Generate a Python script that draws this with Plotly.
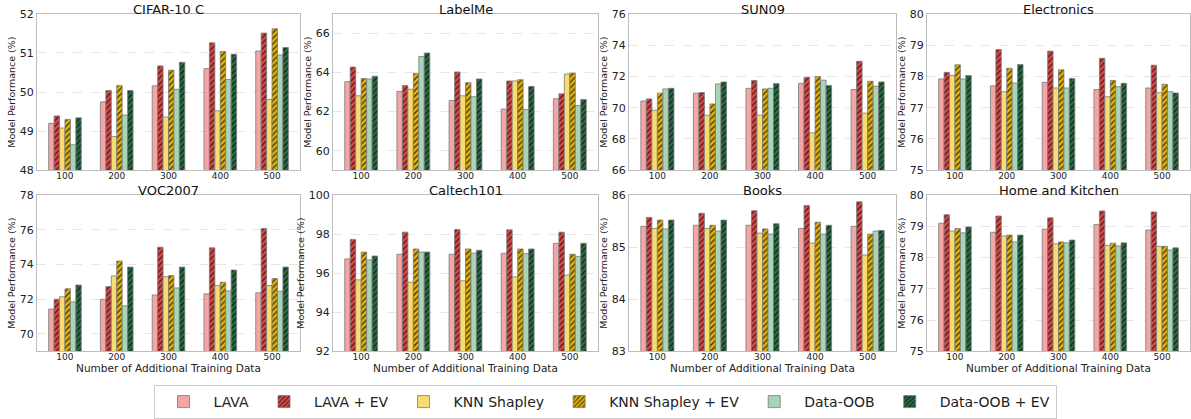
import plotly.graph_objects as go
from plotly.subplots import make_subplots

categories = ["100", "200", "300", "400", "500"]
methods = ["LAVA", "LAVA + EV", "KNN Shapley", "KNN Shapley + EV", "Data-OOB", "Data-OOB + EV"]

titles = ["CIFAR-10 C", "LabelMe", "SUN09", "Electronics",
          "VOC2007", "Caltech101", "Books", "Home and Kitchen"]

cifar = [
    [49.20, 49.75, 50.16, 50.60, 51.05],
    [49.39, 50.04, 50.67, 51.26, 51.51],
    [49.08, 48.86, 49.36, 49.52, 49.81],
    [49.30, 50.17, 50.56, 51.04, 51.62],
    [48.65, 49.41, 50.07, 50.32, 50.95],
    [49.34, 50.04, 50.76, 50.97, 51.14],
]
labelme = [
    [63.53, 63.03, 62.57, 62.13, 62.66],
    [64.28, 63.33, 64.03, 63.57, 62.91],
    [62.81, 63.14, 62.81, 63.57, 63.92],
    [63.69, 63.96, 63.48, 63.63, 63.97],
    [63.67, 64.82, 62.76, 62.11, 62.31],
    [63.81, 65.00, 63.67, 63.29, 62.62],
]
sun09 = [
    [70.43, 70.93, 71.24, 71.56, 71.16],
    [70.56, 70.97, 71.74, 71.95, 72.97],
    [69.84, 69.52, 69.52, 68.39, 69.65],
    [70.93, 70.24, 71.20, 71.99, 71.69],
    [71.20, 71.52, 71.24, 71.76, 71.37],
    [71.24, 71.65, 71.54, 71.42, 71.65],
]
electronics = [
    [77.92, 77.70, 77.81, 77.58, 77.63],
    [78.13, 78.86, 78.81, 78.58, 78.36],
    [78.03, 77.51, 77.63, 77.35, 77.48],
    [78.37, 78.26, 78.21, 77.87, 77.75],
    [77.92, 77.79, 77.63, 77.67, 77.51],
    [78.03, 78.38, 77.93, 77.78, 77.47],
]
voc2007 = [
    [71.43, 72.00, 72.25, 72.31, 72.37],
    [72.00, 72.73, 75.00, 74.96, 76.07],
    [72.14, 73.34, 73.30, 72.80, 72.79],
    [72.60, 74.20, 73.36, 72.98, 73.19],
    [71.85, 71.62, 72.65, 72.48, 72.46],
    [72.82, 73.85, 73.85, 73.68, 73.85],
]
caltech101 = [
    [96.73, 96.97, 96.97, 97.02, 97.53],
    [97.73, 98.10, 98.24, 98.22, 98.10],
    [95.66, 95.54, 95.61, 95.81, 95.90],
    [97.08, 97.24, 97.24, 97.24, 96.97],
    [96.68, 97.08, 97.03, 97.00, 96.86],
    [96.88, 97.08, 97.17, 97.24, 97.53],
]
books = [
    [85.40, 85.42, 85.42, 85.36, 85.40],
    [85.57, 85.65, 85.70, 85.80, 85.87],
    [85.36, 85.36, 85.27, 85.08, 84.85],
    [85.52, 85.42, 85.35, 85.48, 85.25],
    [85.35, 85.31, 85.25, 85.25, 85.31],
    [85.52, 85.52, 85.45, 85.42, 85.32],
]
home_kitchen = [
    [79.10, 78.81, 78.91, 79.06, 78.88],
    [79.37, 79.33, 79.27, 79.49, 79.46],
    [78.85, 78.69, 78.44, 78.39, 78.36],
    [78.93, 78.72, 78.50, 78.46, 78.36],
    [78.79, 78.50, 78.47, 78.37, 78.24],
    [78.98, 78.72, 78.56, 78.47, 78.31],
]

datasets = [cifar, labelme, sun09, electronics, voc2007, caltech101, books, home_kitchen]
y_ranges = [[48, 52], [59, 67], [66, 76], [75, 80], [69, 78], [92, 100], [83, 86], [75, 80]]
y_ticks = [
    [48, 49, 50, 51, 52],
    [60, 62, 64, 66],
    [66, 68, 70, 72, 74, 76],
    [75, 76, 77, 78, 79, 80],
    [70, 72, 74, 76, 78],
    [92, 94, 96, 98, 100],
    [83, 84, 85, 86],
    [75, 76, 77, 78, 79, 80],
]

colors = ["#F4A6A6", "#D64B4B", "#F8DC72", "#E2B30A", "#A8D5B8", "#2B6A45"]
hatched = [False, True, False, True, False, True]
hatch_fg = ["#000000", "#5a1515", "#000000", "#4a3a00", "#000000", "#0c2a18"]

W, H = 1191, 419
x_dom = [(37, 300), (333, 598), (629, 896), (927, 1190)]
y_dom = [(14, 171), (196, 353)]

fig = make_subplots(rows=2, cols=4, horizontal_spacing=0.03, vertical_spacing=0.06)

for k, data in enumerate(datasets):
    r, c = k // 4 + 1, k % 4 + 1
    for m in range(6):
        marker = dict(color=colors[m], line=dict(color="#7a7a7a", width=0.8))
        if hatched[m]:
            marker["pattern"] = dict(shape="/", fgcolor=hatch_fg[m], bgcolor=colors[m],
                                     size=4, solidity=0.35, fillmode="replace")
        fig.add_trace(go.Bar(x=categories, y=data[m], name=methods[m], marker=marker,
                             legendgroup=methods[m], showlegend=(k == 0)), row=r, col=c)

for k in range(8):
    r, c = k // 4, k % 4
    idx = "" if k == 0 else str(k + 1)
    x0, x1 = x_dom[c]
    yt, yb = y_dom[r]
    fig.layout["xaxis" + idx].update(
        domain=[x0 / W, x1 / W], range=[-0.54, 4.54], showline=True, mirror=True,
        linecolor="#bdbdbd", linewidth=1.2, ticks="", tickfont=dict(size=9, color="#222"),
        showgrid=False, automargin=False, ticklabelstandoff=-3)
    fig.layout["yaxis" + idx].update(
        domain=[1 - yb / H, 1 - yt / H], range=y_ranges[k], tickvals=y_ticks[k],
        showline=True, mirror=True, linecolor="#bdbdbd", linewidth=1.2,
        showgrid=True, gridcolor="#e6e6e6", griddash="dash", gridwidth=0.8,
        tickfont=dict(size=11, color="#222"), zeroline=False, ticks="", automargin=False,
        title=dict(text="Model Performance (%)", font=dict(size=9.5, color="#222"), standoff=2))
    if r == 1:
        fig.layout["xaxis" + idx].title = dict(text="Number of Additional Training Data",
                                               font=dict(size=10.5, color="#222"), standoff=2)
    fig.add_annotation(text=titles[k], x=(x0 + x1) / 2 / W, y=1 - yt / H, xref="paper",
                       yref="paper", xanchor="center", yanchor="bottom", showarrow=False,
                       font=dict(size=13, color="#111"), yshift=-4, borderpad=0)

fig.update_layout(
    width=W, height=H, barmode="group", bargap=0.37, bargroupgap=0,
    plot_bgcolor="white", paper_bgcolor="white",
    font=dict(family="DejaVu Sans, sans-serif", color="#222"),
    margin=dict(l=0, r=0, t=0, b=0),
    legend=dict(orientation="h", x=0.508, xanchor="center", y=1 - 387 / H, yanchor="top",
                bordercolor="#cccccc", borderwidth=1, font=dict(size=14),
                itemwidth=50, bgcolor="white"),
)

fig.write_html("out.html", config={"displayModeBar": False},
               post_script="document.body.style.margin='0';document.body.style.padding='0';")
